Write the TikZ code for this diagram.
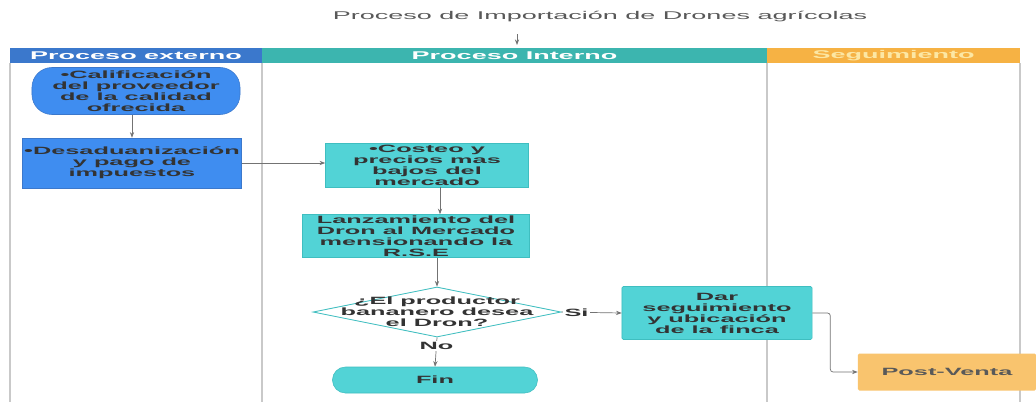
\documentclass[tikz,border=0pt]{standalone}
\usepackage{fontspec}
\newfontfamily\diagfont{Liberation Sans}[FakeStretch=2.4]
\definecolor{azulcab}{HTML}{3B78CC}
\definecolor{azulcaja}{HTML}{3F8DF0}
\definecolor{verdecab}{HTML}{3CB5AF}
\definecolor{turquesa}{HTML}{52D3D6}
\definecolor{bordeturq}{HTML}{3FBEC0}
\definecolor{naranjacab}{HTML}{F6B244}
\definecolor{naranjacaja}{HTML}{F9C46E}
\definecolor{amarillotxt}{HTML}{FCE7A4}
\definecolor{carril}{HTML}{C9C9C9}
\usetikzlibrary{arrows.meta, shapes.geometric, calc}
\newcommand{\flecha}[2]
{
	\draw[conector] (#1) -- (#2)
}

\begin{document}
\begin{tikzpicture}[x=0.025cm, y=-0.025cm,
	every node/.append style={inner sep=0pt, align=center, text=black!80,
		font=\diagfont\bfseries\fontsize{7.5}{7.8}\selectfont},
	cabecera/.style={rectangle, minimum height=0.375cm, text=white,
		font=\diagfont\bfseries\fontsize{8}{9}\selectfont},
	cajaazul/.style={rectangle, fill=azulcaja, draw=azulcab, line width=0.4pt},
	cajaturq/.style={rectangle, fill=turquesa, draw=bordeturq, line width=0.4pt},
	conector/.style={draw=black!55, line width=0.5pt, -{Stealth[length=4pt, width=3pt]}},
	etiqueta/.style={fill=white, inner sep=1pt},
	carrilline/.style={draw=carril, line width=1.2pt}]

	\useasboundingbox[fill=white] (0,0) rectangle (1036,402);

	% titulo
	\node[text=black!65, font=\diagfont\fontsize{8}{9}\selectfont] (titulo) at (600,17) {Proceso de Importación de Drones agrícolas};
	\coordinate (marca) at (517,34);
	\draw[conector] (marca) -- ++(0,11);

	% carriles
	\foreach \x in {10,262,767,1020}
		\draw[carrilline] (\x,63) -- (\x,402);
	\node[cabecera, fill=azulcab, minimum width=6.3cm] (cabext) at (136,55.5) {Proceso externo};
	\node[cabecera, fill=verdecab, minimum width=12.625cm] (cabint) at (514.5,55.5) {Proceso Interno};
	\node[cabecera, fill=naranjacab, minimum width=6.325cm, text=amarillotxt] (cabseg) at (893.5,55.5) {Seguimiento};

	% proceso externo
	\node[cajaazul, rounded corners=0.5cm, minimum width=5.2cm, minimum height=1.175cm] (cal) at (136,91) {•Calificación\\del proveedor\\de la calidad\\ofrecida};
	\node[cajaazul, minimum width=5.475cm, minimum height=1.25cm] (des) at (132,163) {•Desaduanización\\y pago de\\impuestos};

	% proceso interno
	\node[cajaturq, minimum width=5.075cm, minimum height=1.1cm] (cos) at (427,165) {•Costeo y\\precios mas\\bajos del\\mercado};
	\node[cajaturq, minimum width=5.675cm, minimum height=1.075cm] (lan) at (416,236) {Lanzamiento del\\Dron al Mercado\\mensionando la\\R.S.E};
	\node[diamond, draw=bordeturq, fill=white, line width=0.6pt, minimum width=6.2cm, minimum height=1.25cm] (dec) at (437,312) {};
	\node (dectxt) at (dec.center) {¿El productor\\bananero desea\\el Dron?};
	\node[cajaturq, rounded corners=0.325cm, minimum width=5.125cm, minimum height=0.65cm] (fin) at (435,380) {Fin};

	% seguimiento
	\node[cajaturq, rounded corners=1pt, minimum width=4.75cm, minimum height=1.325cm] (dar) at (717,313) {Dar\\seguimiento\\y ubicación\\de la finca};
	\node[rectangle, fill=naranjacaja, rounded corners=1pt, minimum width=4.45cm, minimum height=0.925cm, text=black!65] (postventa) at (947,372) {Post-Venta};

	% conectores
	\coordinate (cosbaja) at ($(cos.south)+(13,0)$);
	\flecha{cal.south -| des.north}{des.north};
	\flecha{des.east}{des.east -| cos.west};
	\flecha{cosbaja}{cosbaja |- lan.north};
	\flecha{dec.north |- lan.south}{dec.north};
	\draw[conector] (dec.south) -- node[etiqueta, pos=0.3] {No} (fin.north);
	\draw[conector] (dec.east) -- node[etiqueta, pos=0.25] {Si} (dar.west);
	\draw[conector, rounded corners=2pt] (dar.east) -- ++(18,0) |- (postventa.west);
\end{tikzpicture}
\end{document}
